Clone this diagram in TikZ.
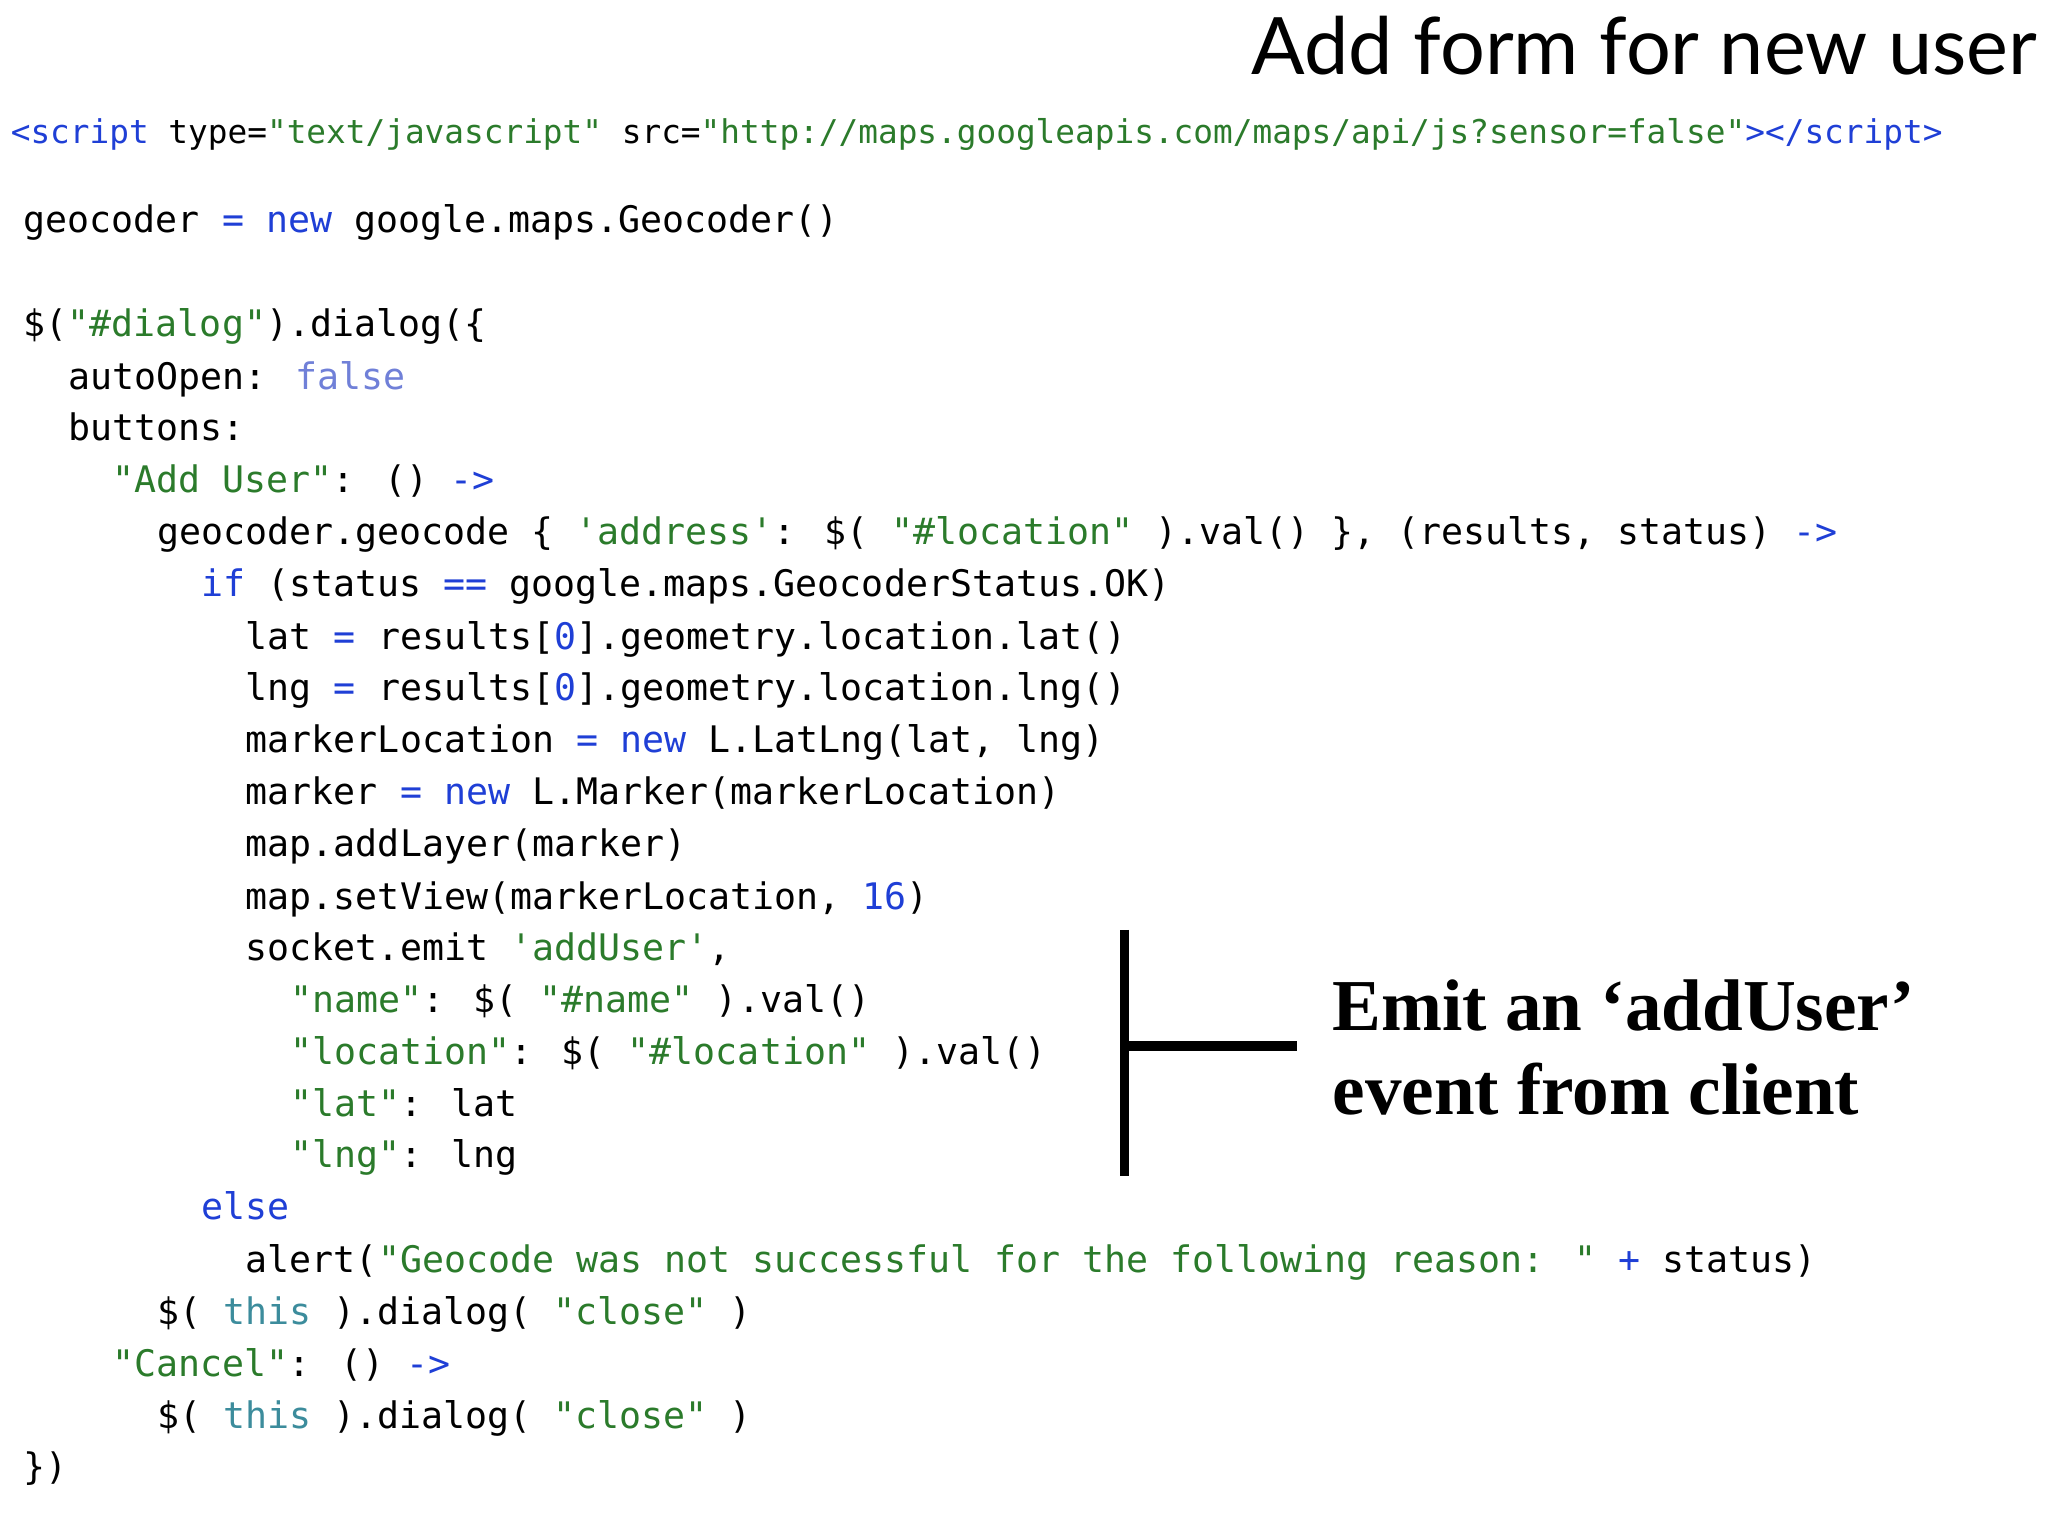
\documentclass[tikz,border=0pt]{standalone}
\usepackage{fontspec}
\newfontfamily\codefont{DejaVu Sans Mono}
\newfontfamily\titlefont{Lato}
\newfontfamily\notefont{Liberation Serif}
\definecolor{kw}{HTML}{1F3FD6}
\definecolor{st}{HTML}{2B7B2B}
\definecolor{fa}{HTML}{7080D8}
\definecolor{th}{HTML}{3C8C9C}
\newcommand\K[1]{\textcolor{kw}{#1}}
\newcommand\Sg[1]{\textcolor{st}{#1}}
\begin{document}
\begin{tikzpicture}[x=0.75pt,y=-0.75pt,
  code/.style={font=\codefont\fontsize{21}{25}\selectfont,anchor=base west,inner sep=0pt},
  code0/.style={font=\codefont\fontsize{18.8}{22}\selectfont,anchor=base west,inner sep=0pt}]
\useasboundingbox[fill=white] (0,0) rectangle (1568,1176);
\node[anchor=base east,inner sep=0pt,font=\titlefont\fontsize{45.5}{50}\selectfont] (title) at (1560,57) {Add form for new user};
\node[code0] (l0) at (8,110) {\K{<script} type=\Sg{"text/javascript"} src=\Sg{"http://maps.googleapis.com/maps/api/js?sensor=false"}\K{></script>}};
\node[code] (l1) at (18,178) {geocoder \K{=} \K{new} google.maps.Geocoder()};
\node[code] (l2) at (18,258) {\$(\Sg{"\#dialog"}).dialog(\{};
\node[code] (l3) at (52,298) {autoOpen: \textcolor{fa}{false}};
\node[code] (l4) at (52,337) {buttons:};
\node[code] (l5) at (86,377) {\Sg{"Add User"}: () \K{->}};
\node[code] (l6) at (120,417) {geocoder.geocode \{ \Sg{'address'}: \$( \Sg{"\#location"} ).val() \}, (results, status) \K{->}};
\node[code] (l7) at (154,457) {\K{if} (status \K{==} google.maps.GeocoderStatus.OK)};
\node[code] (l8) at (188,497) {lat \K{=} results[\K{0}].geometry.location.lat()};
\node[code] (l9) at (188,536) {lng \K{=} results[\K{0}].geometry.location.lng()};
\node[code] (l10) at (188,576) {markerLocation \K{=} \K{new} L.LatLng(lat, lng)};
\node[code] (l11) at (188,616) {marker \K{=} \K{new} L.Marker(markerLocation)};
\node[code] (l12) at (188,656) {map.addLayer(marker)};
\node[code] (l13) at (188,696) {map.setView(markerLocation, \K{16})};
\node[code] (l14) at (188,735) {socket.emit \Sg{'addUser'},};
\node[code] (l15) at (222,775) {\Sg{"name"}: \$( \Sg{"\#name"} ).val()};
\node[code] (l16) at (222,815) {\Sg{"location"}: \$( \Sg{"\#location"} ).val()};
\node[code] (l17) at (222,855) {\Sg{"lat"}: lat};
\node[code] (l18) at (222,894) {\Sg{"lng"}: lng};
\node[code] (l19) at (154,934) {\K{else}};
\node[code] (l20) at (188,974) {alert(\Sg{"Geocode was not successful for the following reason: "} \K{+} status)};
\node[code] (l21) at (120,1014) {\$( \textcolor{th}{this} ).dialog( \Sg{"close"} )};
\node[code] (l22) at (86,1054) {\Sg{"Cancel"}: () \K{->}};
\node[code] (l23) at (120,1094) {\$( \textcolor{th}{this} ).dialog( \Sg{"close"} )};
\node[code] (l24) at (18,1133) {\})};
\coordinate (bt) at (861,712);
\coordinate (bb) at (861,900);
\coordinate (bm) at (861,801);
\coordinate (br) at (993,801);
\draw[line width=5.5pt] (bt) -- (bb);
\draw[line width=5.5pt] (bm) -- (br);
\node[anchor=base west,inner sep=0pt,align=left,font=\notefont\bfseries\fontsize{42}{48}\selectfont] (note) at (1020,853) {Emit an ‘addUser’\\event from client};
\end{tikzpicture}
\end{document}
